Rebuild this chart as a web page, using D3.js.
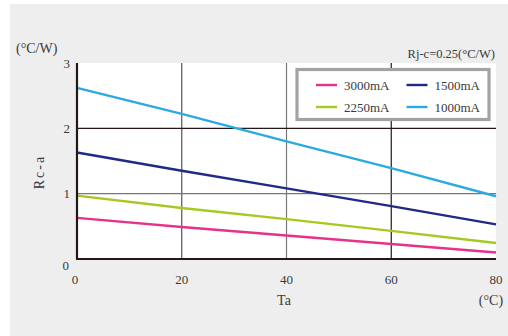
<!DOCTYPE html>
<html>
<head>
<meta charset="utf-8">
<script src="https://cdn.jsdelivr.net/npm/d3@7"></script>
<style>
  body { margin: 0; background: #fff; }
  text { font-family: "Liberation Serif", "DejaVu Serif", serif; fill: #3a3a3a; }
</style>
</head>
<body>
<div id="chart"></div>
<script>
// data
const temps = [0, 20, 40, 60, 80];
const series = ["3000mA", "2250mA", "1500mA", "1000mA"];
const r3000 = [0.63, 0.49, 0.36, 0.23, 0.10];
const r2250 = [0.97, 0.78, 0.61, 0.43, 0.245];
const r1500 = [1.63, 1.35, 1.08, 0.81, 0.53];
const r1000 = [2.62, 2.22, 1.80, 1.39, 0.96];
const xTicks = [0, 20, 40, 60, 80];
const yTicks = [0, 1, 2, 3];

const width = 508;
const height = 336;
const margin = {top: 63, right: 12, bottom: 77, left: 77};
const plotW = width - margin.left - margin.right;
const plotH = height - margin.top - margin.bottom;

const colors = {
    "3000mA": "#e6338a",
    "2250mA": "#a5c91e",
    "1500mA": "#1f2a86",
    "1000mA": "#2aaae1"
};
const values = {"3000mA": r3000, "2250mA": r2250, "1500mA": r1500, "1000mA": r1000};

const svg = d3.select("#chart").append("svg")
    .attr("width", width)
    .attr("height", height);

// grey panel behind everything
svg.append("rect")
    .attr("x", 10).attr("y", 4)
    .attr("width", width - 10).attr("height", height - 4)
    .style("fill", "#eeeeee");

const g = svg.append("g")
    .attr("transform", "translate(" + margin.left + "," + margin.top + ")");

const x = d3.scaleLinear().domain([0, 80]).range([0, plotW]);
const y = d3.scaleLinear().domain([0, 3]).range([plotH, 0]);

g.append("rect")
    .attr("width", plotW)
    .attr("height", plotH)
    .style("fill", "#ffffff");

// grid lines, alternating dark / grey like the original
const gridCol = {20: "#555", 40: "#777", 60: "#231815"};
g.selectAll("line.vgrid")
    .data(xTicks.filter(d => d > 0 && d < 80))
    .enter().append("line")
    .attr("class", "vgrid")
    .attr("x1", d => x(d)).attr("x2", d => x(d))
    .attr("y1", 0).attr("y2", plotH)
    .style("stroke", d => gridCol[d])
    .style("stroke-width", 1.2);

const hCol = {1: "#777", 2: "#231815"};
g.selectAll("line.hgrid")
    .data(yTicks.filter(d => d > 0 && d < 3))
    .enter().append("line")
    .attr("class", "hgrid")
    .attr("x1", 0).attr("x2", plotW)
    .attr("y1", d => y(d)).attr("y2", d => y(d))
    .style("stroke", d => hCol[d])
    .style("stroke-width", 1.2);

// series lines
const line = d3.line()
    .x((d, i) => x(temps[i]))
    .y(d => y(d));

series.forEach(s => {
    g.append("path")
        .datum(values[s])
        .attr("d", line)
        .style("fill", "none")
        .style("stroke", colors[s])
        .style("stroke-width", 2.4);
});

// axes lines
g.append("line")
    .attr("x1", 0).attr("x2", 0).attr("y1", 0).attr("y2", plotH)
    .style("stroke", "#231815").style("stroke-width", 2.2);
g.append("line")
    .attr("x1", -1).attr("x2", plotW).attr("y1", plotH).attr("y2", plotH)
    .style("stroke", "#231815").style("stroke-width", 2.2);

// tick labels
g.selectAll("text.ytick")
    .data(yTicks)
    .enter().append("text")
    .attr("class", "ytick")
    .attr("x", d => d == 0 ? -8 : -7)
    .attr("y", d => d == 0 ? y(d) + 6 : y(d))
    .attr("dy", "0.35em")
    .attr("text-anchor", "end")
    .style("font-size", "13px")
    .text(d => d);

g.selectAll("text.xtick")
    .data(xTicks)
    .enter().append("text")
    .attr("class", "xtick")
    .attr("x", d => d == 0 ? x(d) - 2 : x(d))
    .attr("y", plotH + 20)
    .attr("dy", "0.35em")
    .attr("text-anchor", "middle")
    .style("font-size", "13px")
    .text(d => d);

// axis titles
svg.append("text")
    .attr("x", 284).attr("y", 300)
    .attr("dy", "0.35em")
    .attr("text-anchor", "middle")
    .style("font-size", "14px")
    .text("Ta");

svg.append("text")
    .attr("x", 491).attr("y", 300)
    .attr("dy", "0.35em")
    .attr("text-anchor", "middle")
    .style("font-size", "14px")
    .text("(°C)");

svg.append("text")
    .attr("x", 16).attr("y", 53)
    .style("font-size", "14px")
    .text("(°C/W)");

svg.append("text")
    .attr("transform", "translate(39,172) rotate(-90)")
    .attr("dy", "0.35em")
    .attr("text-anchor", "middle")
    .style("font-size", "14px")
    .style("letter-spacing", "2px")
    .text("Rc-a");

svg.append("text")
    .attr("x", 495).attr("y", 58)
    .attr("text-anchor", "end")
    .style("font-size", "12.5px")
    .text("Rj-c=0.25(°C/W)");

// legend
const legend = svg.append("g");
legend.append("rect")
    .attr("x", 297).attr("y", 69.5)
    .attr("width", 192).attr("height", 50)
    .style("fill", "#ffffff")
    .style("stroke", "#a3a3a3")
    .style("stroke-width", 3.2);

const legendOrder = ["3000mA", "1500mA", "2250mA", "1000mA"];
legendOrder.forEach((s, i) => {
    const lx = 316 + (i % 2) * 90.5;
    const ly = 85 + Math.floor(i / 2) * 22;
    legend.append("line")
        .attr("x1", lx).attr("x2", lx + 21)
        .attr("y1", ly).attr("y2", ly)
        .style("stroke", colors[s])
        .style("stroke-width", 2.4);
    legend.append("text")
        .attr("x", lx + 28).attr("y", ly)
        .attr("dy", "0.35em")
        .style("font-size", "13px")
        .text(s);
});
</script>
</body>
</html>
